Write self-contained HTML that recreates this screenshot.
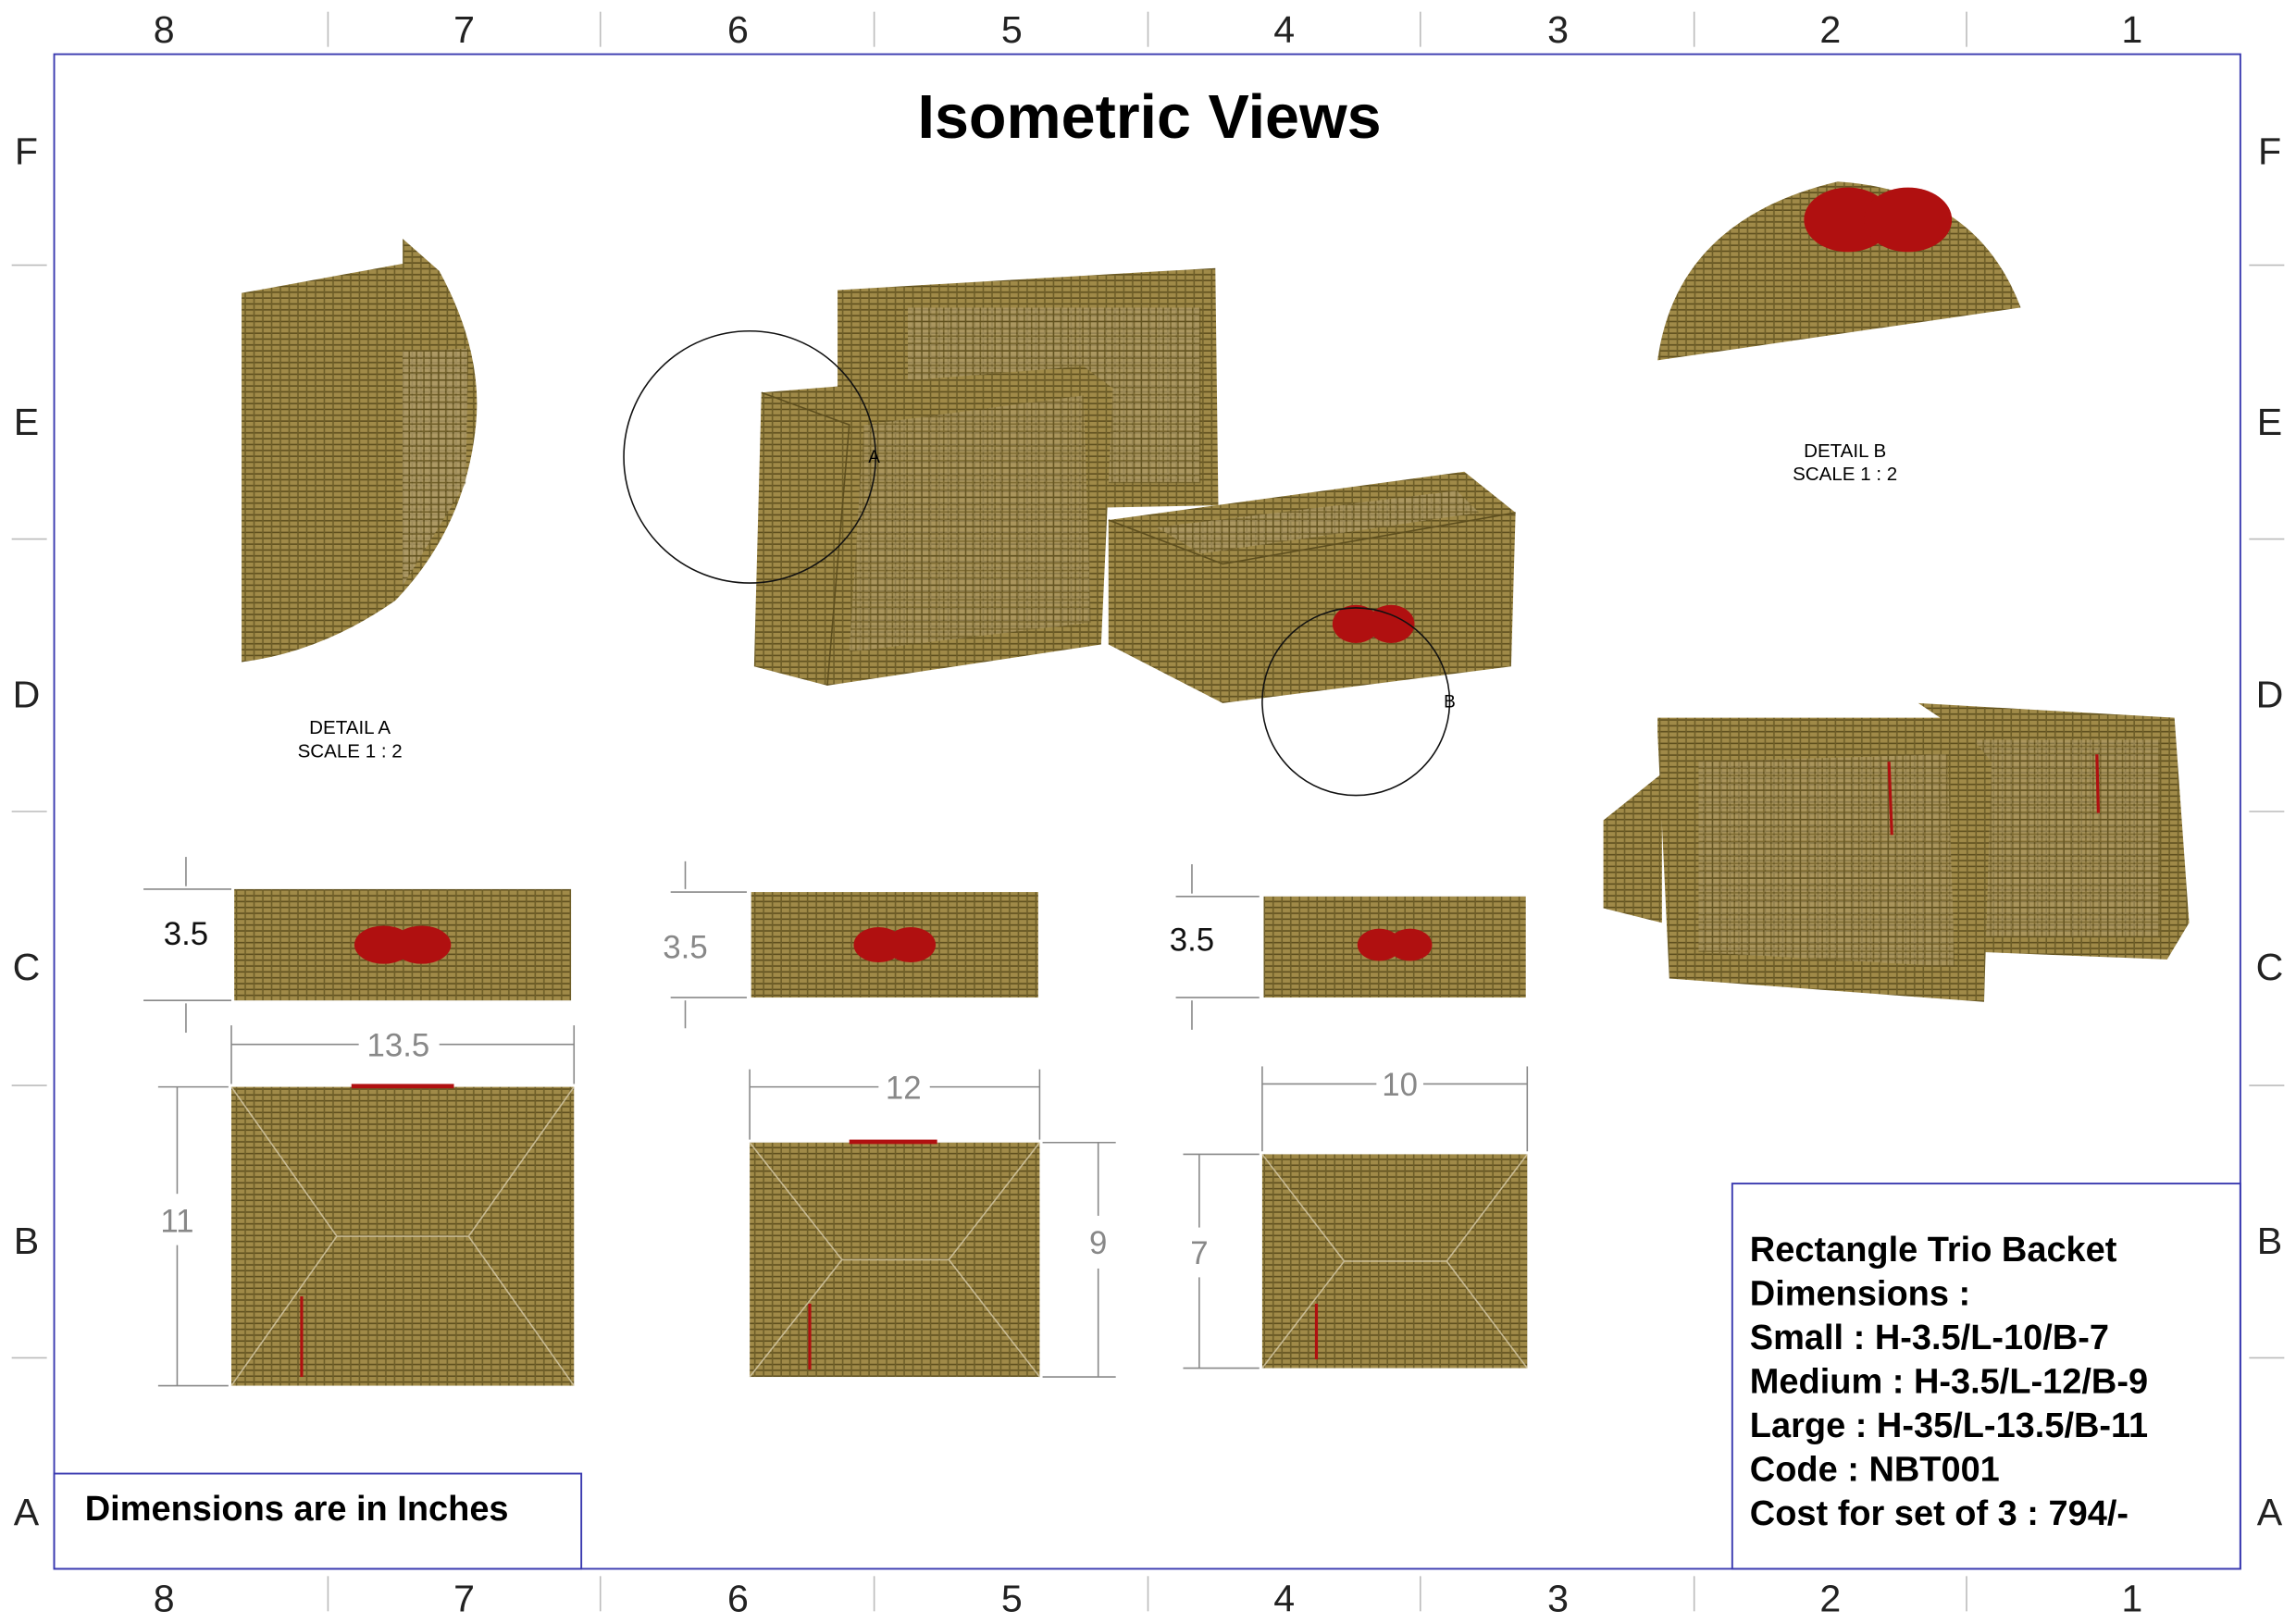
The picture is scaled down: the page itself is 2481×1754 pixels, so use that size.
<!DOCTYPE html>
<html><head><meta charset="utf-8"><style>
html,body{margin:0;padding:0;background:#fff;}
svg{display:block;}
text{font-family:"Liberation Sans",sans-serif;}
</style></head><body>
<svg width="2481" height="1754" viewBox="0 0 1568 1108" preserveAspectRatio="none" xmlns="http://www.w3.org/2000/svg">
<defs>
<pattern id="w" width="6" height="4" patternUnits="userSpaceOnUse">
<rect width="6" height="4" fill="#a08a48"/>
<rect y="3" width="6" height="1" fill="#5e4f1e"/>
<rect x="5" width="1" height="4" fill="#6e5e28"/>
</pattern>
<pattern id="w2" width="5" height="5" patternUnits="userSpaceOnUse">
<rect width="5" height="5" fill="#b3a070"/>
<rect y="4" width="5" height="1" fill="#5e4f1e"/>
<rect x="4" width="1" height="5" fill="#5e4f1e"/>
</pattern>
</defs>
<rect width="1568" height="1108" fill="#fff"/>
<rect x="37" y="37" width="1493" height="1034" fill="none" stroke="#3a3ab0" stroke-width="1.2"/>
<g stroke="#bbb" stroke-width="1">
<line x1="224" y1="8" x2="224" y2="32"/><line x1="410" y1="8" x2="410" y2="32"/><line x1="597" y1="8" x2="597" y2="32"/><line x1="784" y1="8" x2="784" y2="32"/><line x1="970" y1="8" x2="970" y2="32"/><line x1="1157" y1="8" x2="1157" y2="32"/><line x1="1343" y1="8" x2="1343" y2="32"/>
<line x1="224" y1="1076" x2="224" y2="1100"/><line x1="410" y1="1076" x2="410" y2="1100"/><line x1="597" y1="1076" x2="597" y2="1100"/><line x1="784" y1="1076" x2="784" y2="1100"/><line x1="970" y1="1076" x2="970" y2="1100"/><line x1="1157" y1="1076" x2="1157" y2="1100"/><line x1="1343" y1="1076" x2="1343" y2="1100"/>
<line x1="8" y1="181" x2="32" y2="181"/><line x1="8" y1="368" x2="32" y2="368"/><line x1="8" y1="554" x2="32" y2="554"/><line x1="8" y1="741" x2="32" y2="741"/><line x1="8" y1="927" x2="32" y2="927"/>
<line x1="1536" y1="181" x2="1560" y2="181"/><line x1="1536" y1="368" x2="1560" y2="368"/><line x1="1536" y1="554" x2="1560" y2="554"/><line x1="1536" y1="741" x2="1560" y2="741"/><line x1="1536" y1="927" x2="1560" y2="927"/>
</g>
<g font-size="26" fill="#222" text-anchor="middle">
<text x="112" y="29">8</text><text x="317" y="29">7</text><text x="504" y="29">6</text><text x="691" y="29">5</text><text x="877" y="29">4</text><text x="1064" y="29">3</text><text x="1250" y="29">2</text><text x="1456" y="29">1</text>
<text x="112" y="1100">8</text><text x="317" y="1100">7</text><text x="504" y="1100">6</text><text x="691" y="1100">5</text><text x="877" y="1100">4</text><text x="1064" y="1100">3</text><text x="1250" y="1100">2</text><text x="1456" y="1100">1</text>
<text x="18" y="112">F</text><text x="18" y="297">E</text><text x="18" y="483">D</text><text x="18" y="669">C</text><text x="18" y="856">B</text><text x="18" y="1041">A</text>
<text x="1550" y="112">F</text><text x="1550" y="297">E</text><text x="1550" y="483">D</text><text x="1550" y="669">C</text><text x="1550" y="856">B</text><text x="1550" y="1041">A</text>
</g>
<text x="785" y="94" font-size="42" font-weight="bold" text-anchor="middle">Isometric Views</text>

<!-- Detail A -->
<path d="M182,197 L275,180 L275,163 L300,185 Q330,240 325,290 Q318,360 270,410 Q220,445 165,452 L165,200 Z" fill="url(#w)"/>
<path d="M275,240 L320,238 L318,330 L275,400 Z" fill="url(#w2)" opacity="0.7"/>
<text x="239" y="501" font-size="13" text-anchor="middle">DETAIL A</text>
<text x="239" y="517" font-size="13" text-anchor="middle">SCALE 1 : 2</text>

<!-- Detail B -->
<path d="M1132,246 Q1145,150 1255,124 Q1350,130 1380,210 Z" fill="url(#w)"/>
<ellipse cx="1262" cy="150" rx="30" ry="22" fill="#b01010"/>
<ellipse cx="1303" cy="150" rx="30" ry="22" fill="#b01010"/>
<text x="1260" y="312" font-size="13" text-anchor="middle">DETAIL B</text>
<text x="1260" y="328" font-size="13" text-anchor="middle">SCALE 1 : 2</text>

<!-- Central iso -->
<polygon points="572,198 830,183 832,345 572,350" fill="url(#w)"/>
<rect x="620" y="210" width="200" height="120" fill="url(#w2)" opacity="0.6"/>
<polygon points="520,268 740,250 760,265 752,440 565,468 515,455" fill="url(#w)"/>
<polygon points="590,290 740,270 745,425 580,445" fill="url(#w2)" opacity="0.5"/>
<polyline points="520,268 580,290 565,468" fill="none" stroke="#5e4f1e" stroke-width="1"/>
<polygon points="757,355 1000,322 1035,350 1032,455 835,480 757,440" fill="url(#w)"/>
<polygon points="790,360 995,335 1010,350 820,378" fill="url(#w2)" opacity="0.6"/>
<polyline points="757,355 835,385 1035,350" fill="none" stroke="#5e4f1e" stroke-width="1"/>
<ellipse cx="926" cy="426" rx="16" ry="13" fill="#b01010"/>
<ellipse cx="950" cy="426" rx="16" ry="13" fill="#b01010"/>
<circle cx="512" cy="312" r="86" fill="none" stroke="#111" stroke-width="1"/>
<circle cx="926" cy="479" r="64" fill="none" stroke="#111" stroke-width="1"/>
<text x="597" y="316" font-size="12" text-anchor="middle">A</text>
<text x="990" y="483" font-size="12" text-anchor="middle">B</text>

<!-- Right iso -->
<polygon points="1310,480 1485,490 1495,630 1480,655 1355,650 1340,500" fill="url(#w)"/>
<rect x="1350" y="505" width="125" height="135" fill="url(#w2)" opacity="0.5"/>
<polygon points="1095,560 1135,528 1135,630 1095,620" fill="url(#w)"/>
<polygon points="1132,490 1335,490 1360,520 1355,684 1140,668 1132,500" fill="url(#w)"/>
<polygon points="1160,520 1330,515 1335,660 1160,650" fill="url(#w2)" opacity="0.5"/>
<line x1="1290" y1="520" x2="1292" y2="570" stroke="#b01010" stroke-width="2"/>
<line x1="1432" y1="515" x2="1433" y2="555" stroke="#b01010" stroke-width="2"/>

<!-- Front views -->
<rect x="160" y="607" width="230" height="76" fill="url(#w)"/>
<ellipse cx="262" cy="645" rx="20" ry="13" fill="#b01010"/>
<ellipse cx="288" cy="645" rx="20" ry="13" fill="#b01010"/>
<rect x="513" y="609" width="196" height="72" fill="url(#w)"/>
<ellipse cx="600" cy="645" rx="17" ry="12" fill="#b01010"/>
<ellipse cx="622" cy="645" rx="17" ry="12" fill="#b01010"/>
<rect x="863" y="612" width="179" height="69" fill="url(#w)"/>
<ellipse cx="942" cy="645" rx="15" ry="11" fill="#b01010"/>
<ellipse cx="963" cy="645" rx="15" ry="11" fill="#b01010"/>

<!-- Top views -->
<rect x="158" y="742" width="234" height="204" fill="url(#w)"/>
<rect x="512" y="780" width="198" height="160" fill="url(#w)"/>
<rect x="862" y="788" width="181" height="146" fill="url(#w)"/>
<g stroke="#d8ccaa" stroke-width="1" opacity="0.8">
<line x1="158" y1="742" x2="230" y2="844"/><line x1="392" y1="742" x2="320" y2="844"/><line x1="158" y1="946" x2="230" y2="844"/><line x1="392" y1="946" x2="320" y2="844"/><line x1="230" y1="844" x2="320" y2="844"/>
<line x1="512" y1="780" x2="575" y2="860"/><line x1="710" y1="780" x2="648" y2="860"/><line x1="512" y1="940" x2="575" y2="860"/><line x1="710" y1="940" x2="648" y2="860"/><line x1="575" y1="860" x2="648" y2="860"/>
<line x1="862" y1="788" x2="918" y2="861"/><line x1="1043" y1="788" x2="988" y2="861"/><line x1="862" y1="934" x2="918" y2="861"/><line x1="1043" y1="934" x2="988" y2="861"/><line x1="918" y1="861" x2="988" y2="861"/>
</g>
<line x1="206" y1="885" x2="206" y2="940" stroke="#b01010" stroke-width="2"/>
<line x1="553" y1="890" x2="553" y2="935" stroke="#b01010" stroke-width="2"/>
<line x1="899" y1="890" x2="899" y2="928" stroke="#b01010" stroke-width="2"/>
<rect x="240" y="740" width="70" height="3" fill="#b01010"/>
<rect x="580" y="778" width="60" height="3" fill="#b01010"/>

<!-- Dimensions -->
<g stroke="#888" stroke-width="1" fill="none">
<line x1="98" y1="607" x2="158" y2="607"/><line x1="98" y1="683" x2="158" y2="683"/><line x1="127" y1="585" x2="127" y2="605"/><line x1="127" y1="685" x2="127" y2="705"/>
<line x1="458" y1="609" x2="510" y2="609"/><line x1="458" y1="681" x2="510" y2="681"/><line x1="468" y1="588" x2="468" y2="607"/><line x1="468" y1="683" x2="468" y2="702"/>
<line x1="803" y1="612" x2="860" y2="612"/><line x1="803" y1="681" x2="860" y2="681"/><line x1="814" y1="590" x2="814" y2="610"/><line x1="814" y1="683" x2="814" y2="703"/>
<line x1="158" y1="700" x2="158" y2="740"/><line x1="392" y1="700" x2="392" y2="740"/><line x1="158" y1="713" x2="245" y2="713"/><line x1="300" y1="713" x2="392" y2="713"/>
<line x1="512" y1="730" x2="512" y2="778"/><line x1="710" y1="730" x2="710" y2="778"/><line x1="512" y1="742" x2="600" y2="742"/><line x1="635" y1="742" x2="710" y2="742"/>
<line x1="862" y1="728" x2="862" y2="786"/><line x1="1043" y1="728" x2="1043" y2="786"/><line x1="862" y1="740" x2="940" y2="740"/><line x1="972" y1="740" x2="1043" y2="740"/>
<line x1="108" y1="742" x2="156" y2="742"/><line x1="108" y1="946" x2="156" y2="946"/><line x1="121" y1="742" x2="121" y2="815"/><line x1="121" y1="850" x2="121" y2="946"/>
<line x1="712" y1="780" x2="762" y2="780"/><line x1="712" y1="940" x2="762" y2="940"/><line x1="750" y1="780" x2="750" y2="830"/><line x1="750" y1="866" x2="750" y2="940"/>
<line x1="808" y1="788" x2="860" y2="788"/><line x1="808" y1="934" x2="860" y2="934"/><line x1="819" y1="788" x2="819" y2="838"/><line x1="819" y1="872" x2="819" y2="934"/>
</g>
<text x="127" y="645" font-size="22" text-anchor="middle" fill="#111">3.5</text>
<text x="468" y="654" font-size="22" text-anchor="middle" fill="#888">3.5</text>
<text x="814" y="649" font-size="22" text-anchor="middle" fill="#111">3.5</text>
<text x="272" y="721" font-size="22" text-anchor="middle" fill="#888">13.5</text>
<text x="617" y="750" font-size="22" text-anchor="middle" fill="#888">12</text>
<text x="956" y="748" font-size="22" text-anchor="middle" fill="#888">10</text>
<text x="121" y="841" font-size="22" text-anchor="middle" fill="#888">11</text>
<text x="750" y="856" font-size="22" text-anchor="middle" fill="#888">9</text>
<text x="819" y="863" font-size="22" text-anchor="middle" fill="#888">7</text>

<!-- Notes -->
<rect x="37" y="1006" width="360" height="65" fill="none" stroke="#3a3ab0" stroke-width="1.2"/>
<text x="58" y="1038" font-size="24" font-weight="bold">Dimensions are in Inches</text>
<rect x="1183" y="808" width="347" height="263" fill="none" stroke="#3a3ab0" stroke-width="1.2"/>
<g font-size="24" font-weight="bold">
<text x="1195" y="861">Rectangle Trio Backet</text>
<text x="1195" y="891">Dimensions :</text>
<text x="1195" y="921">Small : H-3.5/L-10/B-7</text>
<text x="1195" y="951">Medium : H-3.5/L-12/B-9</text>
<text x="1195" y="981">Large : H-35/L-13.5/B-11</text>
<text x="1195" y="1011">Code : NBT001</text>
<text x="1195" y="1041">Cost for set of 3 : 794/-</text>
</g>
</svg>
</body></html>
